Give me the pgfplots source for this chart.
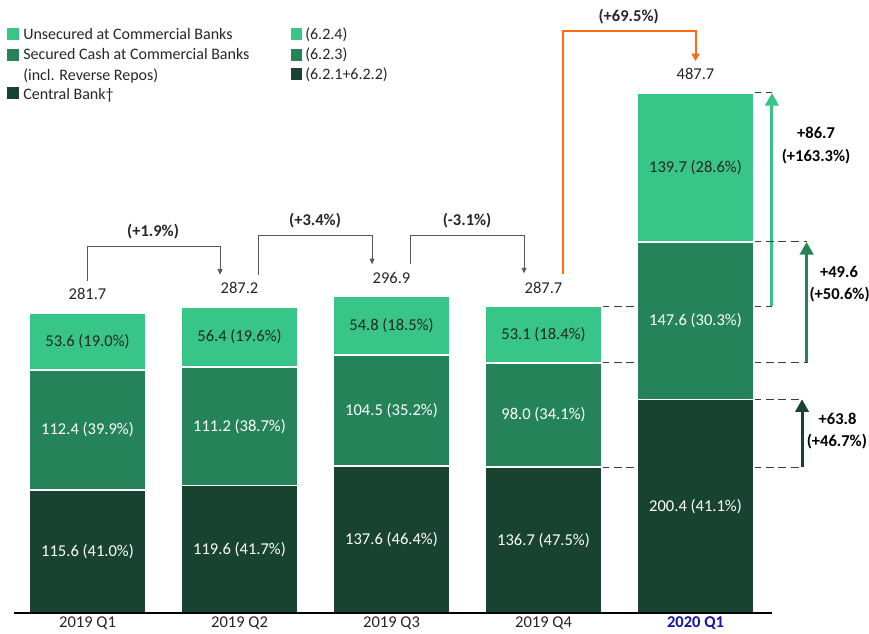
\documentclass[border=0pt]{standalone}
\usepackage{pgfplots}
\pgfplotsset{compat=1.18}
\usepackage{pgfplotstable}
\usepackage{fontspec}
\setmainfont{Carlito}
\usetikzlibrary{arrows.meta}

\definecolor{lightg}{RGB}{56,197,136}
\definecolor{midg}{RGB}{36,131,89}
\definecolor{darkg}{RGB}{23,67,48}
\definecolor{orng}{RGB}{255,106,19}
\definecolor{navy}{RGB}{20,20,160}
\definecolor{txt}{RGB}{38,38,38}
\definecolor{brk}{RGB}{89,89,89}
\definecolor{dsh}{RGB}{60,60,60}

% Holdings by quarter (central bank, secured cash, unsecured)
\pgfplotstableread{
x central secured unsecured
0 115.6 112.4 53.6
1 119.6 111.2 56.4
2 137.6 104.5 54.8
3 136.7 98.0 53.1
4 200.4 147.6 139.7
}\holdings

\tikzset{
  qoq/.style={brk, line width=0.75pt, -{Triangle[width=3.6pt,length=4.2pt]}},
  dashref/.style={dsh, line width=0.75pt, dash pattern=on 6pt off 3.5pt},
  bold/.style={font=\fontsize{12.4}{14.9}\selectfont\bfseries},
  chg/.style={font=\fontsize{12.4}{14.9}\selectfont\bfseries, text=black},
  inbar/.style={text=white},
}

\begin{document}
\begin{tikzpicture}[font=\fontsize{12.4}{14.9}\selectfont]
\useasboundingbox (-10.5pt,-15.75pt) rectangle (641.25pt,459.75pt);
\begin{axis}[
  at={(0,0)}, anchor=south west,
  scale only axis, width=568.5pt, height=459.75pt,
  xmin=-0.4836, xmax=4.5033, ymin=0, ymax=574.94,
  hide y axis,
  axis x line*=bottom,
  x axis line style={draw=none},
  xtick={0,1,2,3,4},
  xticklabels={2019 Q1,2019 Q2,2019 Q3,2019 Q4,{\textbf{\textcolor{navy}{2020 Q1}}}},
  x tick label style={text=txt, yshift=1pt},
  major tick length=0pt,
  ybar stacked, bar width=0.767,
  clip=false,
]
\addplot[fill=darkg, draw=white, line width=1.2pt] table[x=x,y=central]{\holdings};
\addplot[fill=midg, draw=white, line width=1.2pt] table[x=x,y=secured]{\holdings};
\addplot[fill=lightg, draw=white, line width=1.2pt] table[x=x,y=unsecured]{\holdings};

% anchors for the axis line and for the labels inside the bars
\coordinate (base0) at (axis cs:-0.4836,0);
\coordinate (base1) at (axis cs:4.5033,0);
\coordinate (c0) at (axis cs:0,57.8);   \coordinate (s0) at (axis cs:0,171.8);  \coordinate (u0) at (axis cs:0,254.8);
\coordinate (c1) at (axis cs:1,59.8);   \coordinate (s1) at (axis cs:1,175.2);  \coordinate (u1) at (axis cs:1,259.0);
\coordinate (c2) at (axis cs:2,68.8);   \coordinate (s2) at (axis cs:2,189.85); \coordinate (u2) at (axis cs:2,269.5);
\coordinate (c3) at (axis cs:3,68.35);  \coordinate (s3) at (axis cs:3,185.7);  \coordinate (u3) at (axis cs:3,261.25);
\coordinate (c4) at (axis cs:4,100.2);  \coordinate (s4) at (axis cs:4,274.2);  \coordinate (u4) at (axis cs:4,417.85);

% totals
\node[text=txt] at (axis cs:0,299.2) {281.7};
\node[text=txt] at (axis cs:1,304.7) {287.2};
\node[text=txt] at (axis cs:2,314.4) {296.9};
\node[text=txt] at (axis cs:3,305.2) {287.7};
\node[text=txt] at (axis cs:4,505.2) {487.7};

% quarter-on-quarter brackets
\draw[qoq] (axis cs:0,311.7) -- (axis cs:0,344.2) -- (axis cs:0.872,344.2) -- (axis cs:0.872,317.2);
\node[bold, text=txt] at (axis cs:0.431,357.3) {(+1.9\%)};
\draw[qoq] (axis cs:1.126,317.2) -- (axis cs:1.126,353.6) -- (axis cs:1.872,353.6) -- (axis cs:1.872,327.0);
\node[bold, text=txt] at (axis cs:1.497,367.7) {(+3.4\%)};
\draw[qoq] (axis cs:2.128,327.0) -- (axis cs:2.128,353.6) -- (axis cs:2.872,353.6) -- (axis cs:2.872,318.5);
\node[bold, text=txt] at (axis cs:2.497,367.7) {(-3.1\%)};
\draw[orng, line width=1.5pt, -{Triangle[width=6pt,length=5.5pt]}]
  (axis cs:3.128,318.2) -- (axis cs:3.128,545.9) -- (axis cs:4,545.9) -- (axis cs:4,517.7);
\node[bold, text=txt] at (axis cs:3.56,559.4) {(+69.5\%)};

% reference levels from 2019 Q4 to 2020 Q1
\draw[dashref] (axis cs:3.378,287.8) -- (axis cs:3.622,287.8);
\draw[dashref] (axis cs:4.378,287.8) -- (axis cs:4.503,287.8);
\draw[dashref] (axis cs:4.378,487.7) -- (axis cs:4.503,487.7);
\draw[dashref] (axis cs:3.378,234.7) -- (axis cs:3.622,234.7);
\draw[dashref] (axis cs:4.378,234.7) -- (axis cs:4.731,234.7);
\draw[dashref] (axis cs:4.378,348.0) -- (axis cs:4.731,348.0);
\draw[dashref] (axis cs:3.378,136.7) -- (axis cs:3.622,136.7);
\draw[dashref] (axis cs:4.378,136.7) -- (axis cs:4.701,136.7);
\draw[dashref] (axis cs:4.378,200.4) -- (axis cs:4.701,200.4);

% change arrows per component
\draw[lightg, line width=2.3pt, -{Triangle[width=10pt,length=9.5pt]}] (axis cs:4.503,287.8) -- (axis cs:4.503,487.7);
\draw[midg, line width=2.3pt, -{Triangle[width=10pt,length=9.5pt]}] (axis cs:4.731,234.7) -- (axis cs:4.731,348.0);
\draw[darkg, line width=2.3pt, -{Triangle[width=10pt,length=9.5pt]}] (axis cs:4.701,136.7) -- (axis cs:4.701,200.4);

\node[chg] at (axis cs:4.793,450.2) {+86.7};
\node[chg] at (axis cs:4.793,427.7) {(+163.3\%)};
\node[chg] at (axis cs:4.944,319.8) {+49.6};
\node[chg] at (axis cs:4.948,298.3) {(+50.6\%)};
\node[chg] at (axis cs:4.935,182.0) {+63.8};
\node[chg] at (axis cs:4.93,160.4) {(+46.7\%)};
\end{axis}

% axis line and in-bar labels, drawn over the bars
\draw[black, line width=1pt] (base0) -- (base1);
\node[inbar] at (c0) {115.6 (41.0\%)};
\node[inbar] at (s0) {112.4 (39.9\%)};
\node[text=txt] at (u0) {53.6 (19.0\%)};
\node[inbar] at (c1) {119.6 (41.7\%)};
\node[inbar] at (s1) {111.2 (38.7\%)};
\node[text=txt] at (u1) {56.4 (19.6\%)};
\node[inbar] at (c2) {137.6 (46.4\%)};
\node[inbar] at (s2) {104.5 (35.2\%)};
\node[text=txt] at (u2) {54.8 (18.5\%)};
\node[inbar] at (c3) {136.7 (47.5\%)};
\node[inbar] at (s3) {98.0 (34.1\%)};
\node[text=txt] at (u3) {53.1 (18.4\%)};
\node[inbar] at (c4) {200.4 (41.1\%)};
\node[inbar] at (s4) {147.6 (30.3\%)};
\node[text=txt] at (u4) {139.7 (28.6\%)};

% legend
\begin{scope}[shift={(-10.5pt,459.75pt)}, x=0.75pt, y=-0.75pt, font=\fontsize{12}{14.4}\selectfont]
\fill[lightg] (7,28) rectangle (19,40);
\fill[midg] (7,49) rectangle (19,61);
\fill[darkg] (7,87) rectangle (19,99);
\node[anchor=base west, inner sep=0pt, text=txt] at (23,39.5) {Unsecured at Commercial Banks};
\node[anchor=base west, inner sep=0pt, text=txt] at (23,60) {Secured Cash at Commercial Banks};
\node[anchor=base west, inner sep=0pt, text=txt] at (23,80.5) {(incl. Reverse Repos)};
\node[anchor=base west, inner sep=0pt, text=txt] at (23,99.5) {Central Bank†};
\fill[lightg] (290.5,28) rectangle (302,40);
\fill[midg] (290.5,49) rectangle (302,61);
\fill[darkg] (290.5,68.5) rectangle (302,80.5);
\node[anchor=base west, inner sep=0pt, text=txt] at (305,39.5) {(6.2.4)};
\node[anchor=base west, inner sep=0pt, text=txt] at (305,60) {(6.2.3)};
\node[anchor=base west, inner sep=0pt, text=txt] at (305,80) {(6.2.1+6.2.2)};
\end{scope}
\end{tikzpicture}
\end{document}
